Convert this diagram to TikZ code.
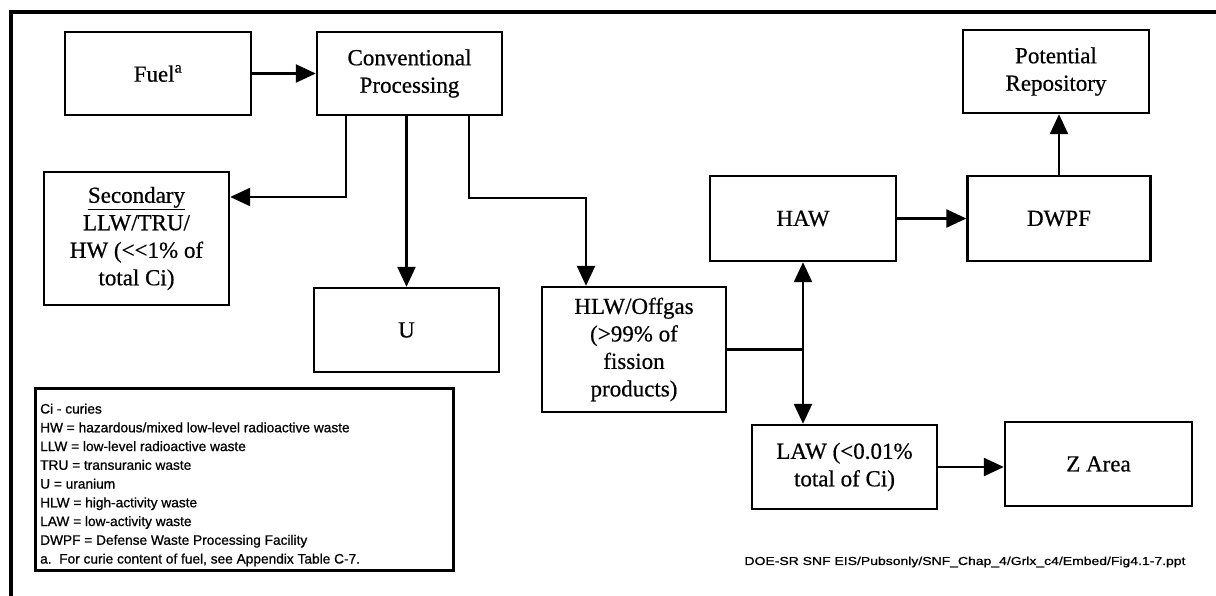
\documentclass[tikz,border=0pt]{standalone}
\usepackage{fontspec}
\setmainfont{Liberation Serif}[BoldFont=Liberation Serif, BoldFeatures={FakeBold=0.6}]
\setsansfont{Liberation Sans}[BoldFont=Liberation Sans, BoldFeatures={FakeBold=0.8}]
\usetikzlibrary{arrows.meta}
\begin{document}
\begin{tikzpicture}[x=1pt,y=-1pt,
  box/.style={draw, line width=2.4pt, inner sep=0pt, align=center,
    font=\fontsize{23}{27.5}\selectfont\bfseries},
  conn/.style={line width=2.4pt},
  arr/.style={conn, -{Triangle[length=20pt,width=18pt]}},
  arrboth/.style={conn, {Triangle[length=20pt,width=18pt]}-{Triangle[length=20pt,width=18pt]}},
  frameline/.style={line width=4pt},
  legendbox/.style={draw, line width=3pt, inner sep=0pt},
  legendtext/.style={inner sep=0pt, align=left, font=\sffamily\bfseries\fontsize{13.7}{18.75}\selectfont},
  footer/.style={inner sep=0pt, font=\sffamily\bfseries\fontsize{11.5}{13}\selectfont}
]
\useasboundingbox (0,0) rectangle (1216,596);
% outer frame (left and top edges)
\draw[frameline] (11,596) -- (11,12) -- (1216,12);

% boxes
\node[box, minimum width=186pt, minimum height=83pt] (fuel) at (158,73.5) {Fuel\textsuperscript{a}};
\node[box, minimum width=185pt, minimum height=83pt] (cp) at (409.5,73.5) {Conventional\\Processing};
\node[box, minimum width=185pt, minimum height=133pt] (sec) at (136.5,238.5) {\underline{Secondary}\\LLW/TRU/\\HW (<{}<1\% of\\total Ci)};
\node[box, minimum width=185pt, minimum height=84pt] (u) at (406.5,330) {U};
\node[box, minimum width=184pt, minimum height=125pt] (hlw) at (634,349.5) {HLW/Offgas\\(>99\% of\\fission\\products)};
\node[box, minimum width=186pt, minimum height=85pt] (haw) at (803,218.5) {HAW};
\node[box, minimum width=183pt, minimum height=85pt] (dwpf) at (1059,218.5) {DWPF};
\node[box, minimum width=186pt, minimum height=83pt] (pr) at (1056,71.5) {Potential\\Repository};
\node[box, minimum width=185pt, minimum height=84pt] (law) at (844.5,467) {LAW (<0.01\%\\total of Ci)};
\node[box, minimum width=187pt, minimum height=84pt] (z) at (1098.5,464) {Z Area};

% connectors
\draw[arr] (fuel.east) -- (cp.west);
\draw[arr] ([xshift=-63.5pt]cp.south) |- ([yshift=41.5pt]sec.east);
\draw[arr] (cp.south -| u.north) -- (u.north);
\draw[arr] ([xshift=59.5pt]cp.south) -- ++(0,82) -| ([xshift=-48pt]hlw.north);
\draw[conn] (hlw.east) -- (hlw.east -| haw.south);
\draw[arrboth] (haw.south) -- (haw.south |- law.north);
\draw[arr] (haw.east) -- (dwpf.west);
\draw[arr] (dwpf.north) -- (dwpf.north |- pr.south);
\draw[arr] (law.east) -- (law.east -| z.west);

% legend
\node[legendbox, minimum width=418pt, minimum height=182pt] (legend) at (244,479) {};
\node[legendtext, anchor=west] (legendtxt) at (40,485) {Ci - curies\\
HW = hazardous/mixed low-level radioactive waste\\
LLW = low-level radioactive waste\\
TRU = transuranic waste\\
U = uranium\\
HLW = high-activity waste\\
LAW = low-activity waste\\
DWPF = Defense Waste Processing Facility\\
a.\ \ For curie content of fuel, see Appendix Table C-7.};

% footer
\node[footer] (foot) at (965,562) {\resizebox{441pt}{\height}{DOE-SR SNF EIS/Pubsonly/SNF\_Chap\_4/Grlx\_c4/Embed/Fig4.1-7.ppt}};
\end{tikzpicture}
\end{document}
